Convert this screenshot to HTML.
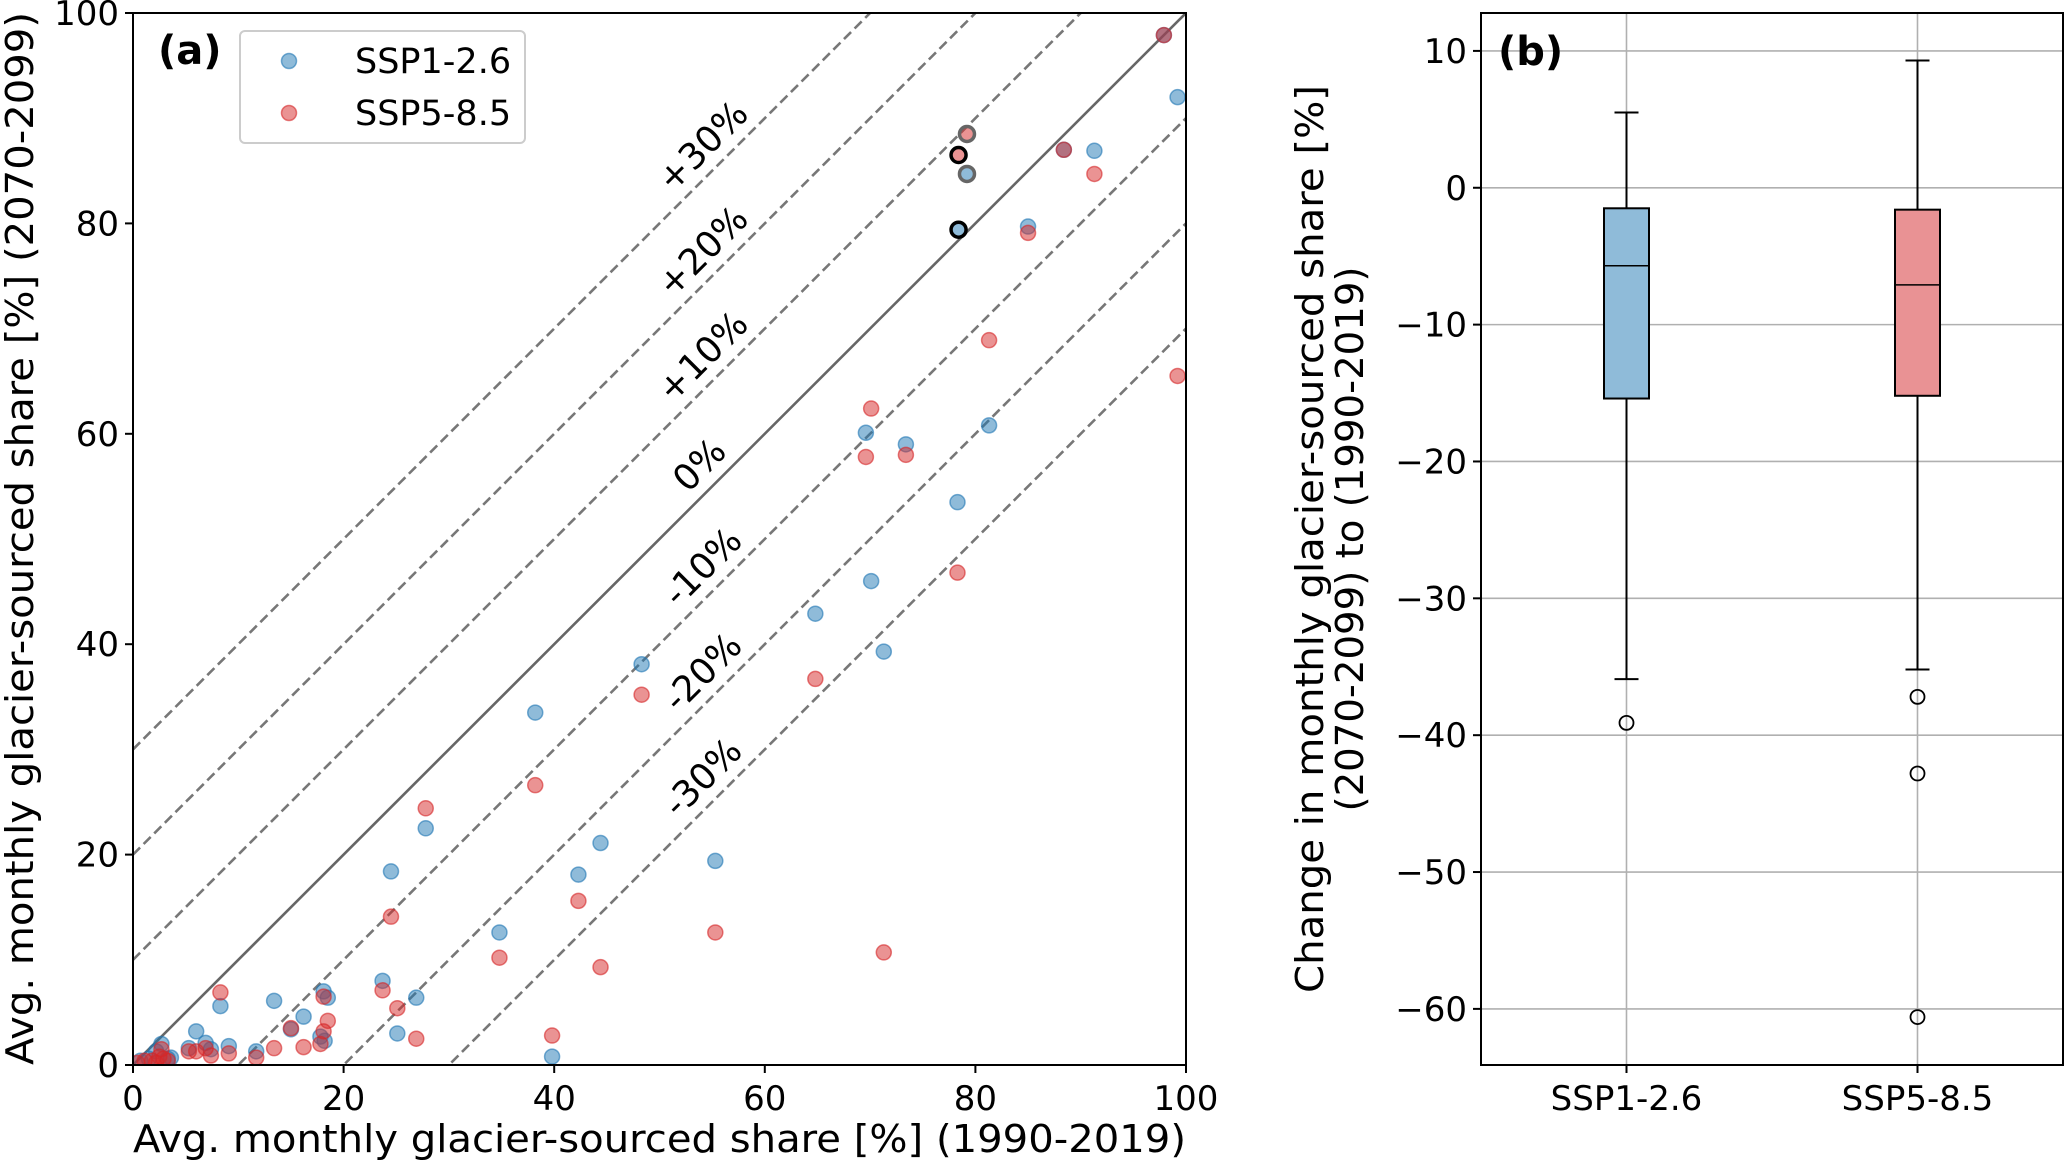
<!DOCTYPE html>
<html><head><meta charset="utf-8"><style>
html,body{margin:0;padding:0;background:#fff;overflow:hidden;width:2067px;height:1166px;}
svg{display:block;font-family:"DejaVu Sans","Liberation Sans",sans-serif;}
</style></head><body>
<svg id="chart" width="2067" height="1166" viewBox="0 0 2067 1166"></svg>
<script>
// ---- Panel (a) data ----
const ssp126X = [99.2,97.9,91.3,88.4,85.0,81.3,78.3,69.6,70.1,73.4,71.3,64.8,55.3,48.3,44.4,42.3,38.2,39.8,34.8,27.8,26.9,24.5,25.1,23.7,18.1,18.5,17.8,18.2,16.2,15.0,13.4,11.7,8.3,9.1,6.0,6.9,5.3,7.4,2.7,2.2,3.3,0.7,1.5,3.6];
const ssp126Y = [92.0,97.9,86.9,87.0,79.7,60.8,53.5,60.1,46.0,59.0,39.3,42.9,19.4,38.1,21.1,18.1,33.5,0.8,12.6,22.5,6.4,18.4,3.0,8.0,7.0,6.4,2.7,2.3,4.6,3.4,6.1,1.3,5.6,1.8,3.2,2.1,1.6,1.5,2.0,1.3,0.6,0.4,0.6,0.7];
const ssp585X = [99.2,97.9,91.3,88.4,85.0,81.3,78.3,69.6,70.1,73.4,71.3,64.8,55.3,48.3,44.4,42.3,38.2,39.8,34.8,27.8,26.9,24.5,25.1,23.7,18.1,18.5,17.8,18.1,16.2,15.0,13.4,11.7,8.3,9.1,6.0,6.9,5.3,7.4,1.8,2.5,2.9,0.4,1.1,2.2,3.3,2.7];
const ssp585Y = [65.5,97.9,84.7,87.0,79.1,68.9,46.8,57.8,62.4,58.0,10.7,36.7,12.6,35.2,9.3,15.6,26.6,2.8,10.2,24.4,2.5,14.1,5.4,7.1,6.5,4.2,2.0,3.2,1.7,3.5,1.6,0.7,6.9,1.1,1.3,1.6,1.3,0.9,0.4,0.8,0.6,0.2,0.4,0.2,0.4,1.5];
const highlightX = [79.2,78.4,79.2,78.4];
const highlightY = [88.5,86.5,84.7,79.4];
const highlightSeries = ["red","red","blue","blue"];
const highlightEdge = ["#666","#000","#666","#000"];
const offsets = [30,20,10,0,-10,-20,-30];
const offsetLabels = ["+30%","+20%","+10%","0%","-10%","-20%","-30%"];
const labelPosX = [55.1,55.1,55.1,54.8,55.1,55.1,55.1];
const axisTicksA = [0,20,40,60,80,100];
// ---- Panel (b) data ----
const boxCats = ["SSP1-2.6","SSP5-8.5"];
const boxQ1 = [-15.4,-15.2];
const boxMed = [-5.7,-7.1];
const boxQ3 = [-1.5,-1.6];
const whiskLo = [-35.9,-35.2];
const whiskHi = [5.5,9.3];
const outliers1 = [-39.1];
const outliers2 = [-37.2,-42.8,-60.6];
const ticksB = [10,0,-10,-20,-30,-40,-50,-60];

const NS="http://www.w3.org/2000/svg";
const svg=document.getElementById('chart');
function mk(tag,attrs,parent){const e=document.createElementNS(NS,tag);for(const k in attrs)e.setAttribute(k,attrs[k]);(parent||svg).appendChild(e);return e;}

// ---------- Panel A ----------
const AL=133,AR=1186,AT=13,AB=1065;
const ax=v=>AL+(v/100)*(AR-AL);
const ay=v=>AB-(v/100)*(AB-AT);
const gA=mk('g',{});


const clip=mk('clipPath',{id:'clipA'});mk('rect',{x:AL,y:AT,width:AR-AL,height:AB-AT},clip);
const gLines=mk('g',{'clip-path':'url(#clipA)'},gA);
offsets.forEach((o,i)=>{
  const l=mk('line',{x1:ax(0),y1:ay(o),x2:ax(100),y2:ay(100+o),stroke:o===0?'#666':'#777','stroke-width':2.6,'stroke-dasharray':o===0?'none':'10,5'},gLines);
  
  
  const t=mk('text',{x:0,y:0,transform:`translate(${ax(labelPosX[i])-2},${ay(labelPosX[i]+o)-15}) rotate(-45)`,'text-anchor':'middle','font-size':36,fill:'#000'},gA);
  t.textContent=offsetLabels[i];
  
  
});
const gPts=mk('g',{'clip-path':'url(#clipA)'},gA);
function dot(x,y,fill,edge){return mk('circle',{cx:ax(x),cy:ay(y),r:7.5,fill:fill,'fill-opacity':0.5,stroke:edge,'stroke-opacity':0.6,'stroke-width':1.5},gPts);}
ssp126X.forEach((x,i)=>{const c=dot(x,ssp126Y[i],'#1f77b4','#1f77b4');
  
  });
ssp585X.forEach((x,i)=>{const c=dot(x,ssp585Y[i],'#d62728','#d62728');
  
  });
highlightX.forEach((x,i)=>{const col=highlightSeries[i]==='red'?'#d62728':'#1f77b4';
  const c=mk('circle',{cx:ax(x),cy:ay(highlightY[i]),r:7.5,fill:col,'fill-opacity':0.5,stroke:highlightEdge[i],'stroke-width':3.5},gPts);
  
  });
const frA=mk('rect',{x:AL,y:AT,width:AR-AL,height:AB-AT,fill:'none',stroke:'#000','stroke-width':2},gA);


axisTicksA.forEach(v=>{
  mk('line',{x1:ax(v),y1:AB,x2:ax(v),y2:AB+8,stroke:'#000','stroke-width':2},gA);
  const tx=mk('text',{x:ax(v),y:AB+45,'text-anchor':'middle','font-size':34},gA);tx.textContent=v;
  
  
  mk('line',{x1:AL-8,y1:ay(v),x2:AL,y2:ay(v),stroke:'#000','stroke-width':2},gA);
  const ty=mk('text',{x:AL-14,y:ay(v)+12,'text-anchor':'end','font-size':34},gA);ty.textContent=v;
  
  
});
const xl=mk('text',{x:AL,y:1152,'font-size':38,textLength:1053,lengthAdjust:'spacingAndGlyphs'},gA);xl.textContent='Avg. monthly glacier-sourced share [%] (1990-2019)';


const yl=mk('text',{x:0,y:0,transform:`translate(33,${AB}) rotate(-90)`,'font-size':38,textLength:1053,lengthAdjust:'spacingAndGlyphs'},gA);yl.textContent='Avg. monthly glacier-sourced share [%] (2070-2099)';


const pa=mk('text',{x:158,y:64,'font-size':40,'font-weight':'bold'},gA);pa.textContent='(a)';


// legend
const lg=mk('g',{},gA);


mk('rect',{x:240,y:31,width:285,height:112,rx:5,fill:'#fff','fill-opacity':0.8,stroke:'#ccc','stroke-width':2},lg);
[['SSP1-2.6','#1f77b4',61],['SSP5-8.5','#d62728',113]].forEach(([n,c,y])=>{
  const e=mk('g',{},lg);
  
  
  mk('circle',{cx:289,cy:y,r:7.5,fill:c,'fill-opacity':0.5,stroke:c,'stroke-opacity':0.6,'stroke-width':1.5},e);
  const t=mk('text',{x:355,y:y+12,'font-size':35},e);t.textContent=n;
});

// ---------- Panel B ----------
const BL=1481,BR=2063,BT=13,BB=1065;
const yMin=-64.1,yMax=12.77;
const by=v=>BB-(v-yMin)/(yMax-yMin)*(BB-BT);
const bx=i=>BL+(i+0.5)/2*(BR-BL);
const gB=mk('g',{});


ticksB.forEach(v=>{
  const g=mk('line',{x1:BL,y1:by(v),x2:BR,y2:by(v),stroke:'#b0b0b0','stroke-width':1.6},gB);
  
  
  mk('line',{x1:BL-8,y1:by(v),x2:BL,y2:by(v),stroke:'#000','stroke-width':2},gB);
  const t=mk('text',{x:BL-14,y:by(v)+12,'text-anchor':'end','font-size':34},gB);t.textContent=(v<0?'\u2212'+Math.abs(v):v);
  
  
});
boxCats.forEach((c,i)=>{
  mk('line',{x1:bx(i),y1:BT,x2:bx(i),y2:BB,stroke:'#b0b0b0','stroke-width':1.6},gB);
  mk('line',{x1:bx(i),y1:BB,x2:bx(i),y2:BB+8,stroke:'#000','stroke-width':2},gB);
  const t=mk('text',{x:bx(i),y:BB+45,'text-anchor':'middle','font-size':34},gB);t.textContent=c;
  
  
});
const fills=['#8fbbd9','#e99294'];
const outs=[outliers1,outliers2];
boxCats.forEach((c,i)=>{
  const g=mk('g',{},gB);
  
  
  const x=bx(i),w=45;
  mk('line',{x1:x,y1:by(boxQ3[i]),x2:x,y2:by(whiskHi[i]),stroke:'#000','stroke-width':2},g);
  mk('line',{x1:x,y1:by(boxQ1[i]),x2:x,y2:by(whiskLo[i]),stroke:'#000','stroke-width':2},g);
  mk('line',{x1:x-12,y1:by(whiskHi[i]),x2:x+12,y2:by(whiskHi[i]),stroke:'#000','stroke-width':2},g);
  mk('line',{x1:x-12,y1:by(whiskLo[i]),x2:x+12,y2:by(whiskLo[i]),stroke:'#000','stroke-width':2},g);
  mk('rect',{x:x-w/2,y:by(boxQ3[i]),width:w,height:by(boxQ1[i])-by(boxQ3[i]),fill:fills[i],stroke:'#000','stroke-width':2},g);
  mk('line',{x1:x-w/2,y1:by(boxMed[i]),x2:x+w/2,y2:by(boxMed[i]),stroke:'#000','stroke-width':1.5},g);
  outs[i].forEach(v=>{const o=mk('circle',{cx:x,cy:by(v),r:7,fill:'none',stroke:'#000','stroke-width':1.8},g);
    
    });
});
const frB=mk('rect',{x:BL,y:BT,width:BR-BL,height:BB-BT,fill:'none',stroke:'#000','stroke-width':2},gB);


const yb=mk('text',{x:0,y:0,transform:`translate(1310,${(BT+BB)/2}) rotate(-90)`,'text-anchor':'middle','font-size':38},gB);


const t1=mk('tspan',{x:0,y:13,textLength:908,lengthAdjust:'spacingAndGlyphs'},yb);t1.textContent='Change in monthly glacier-sourced share [%]';
const t2=mk('tspan',{x:0,y:53,textLength:545,lengthAdjust:'spacingAndGlyphs'},yb);t2.textContent='(2070-2099) to (1990-2019)';
const pb=mk('text',{x:1498,y:65,'font-size':40,'font-weight':'bold'},gB);pb.textContent='(b)';


</script>
</body></html>
